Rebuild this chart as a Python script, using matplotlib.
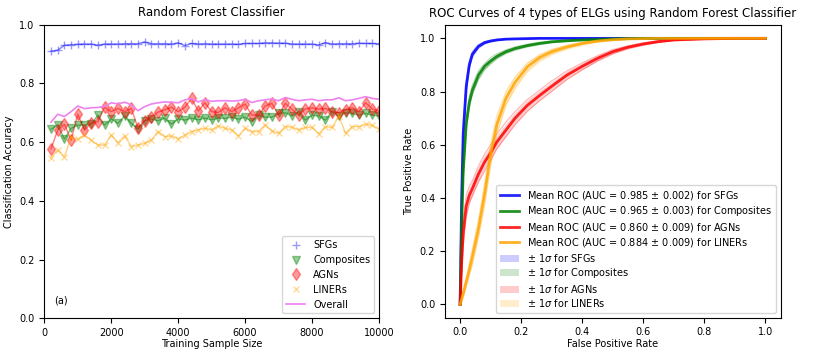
import numpy as np
import matplotlib
matplotlib.use("Agg")
import matplotlib.pyplot as plt

# --- left panel: accuracy vs training sample size ---
sizes = list(range(200, 10001, 200))

acc_sfg = [0.910, 0.913, 0.930, 0.932, 0.933, 0.934, 0.934, 0.930, 0.934, 0.934,
           0.934, 0.935, 0.935, 0.935, 0.941, 0.935, 0.935, 0.935, 0.934, 0.938,
           0.929, 0.936, 0.934, 0.935, 0.934, 0.934, 0.934, 0.934, 0.933, 0.936,
           0.936, 0.936, 0.938, 0.938, 0.937, 0.937, 0.934, 0.934, 0.934, 0.934,
           0.931, 0.939, 0.934, 0.935, 0.935, 0.935, 0.937, 0.936, 0.936, 0.935]
acc_comp = [0.644, 0.658, 0.610, 0.647, 0.658, 0.658, 0.661, 0.692, 0.658, 0.679,
            0.664, 0.689, 0.664, 0.644, 0.673, 0.679, 0.673, 0.682, 0.661, 0.679,
            0.675, 0.682, 0.676, 0.682, 0.676, 0.682, 0.681, 0.685, 0.678, 0.685,
            0.670, 0.692, 0.685, 0.685, 0.698, 0.700, 0.689, 0.704, 0.675, 0.692,
            0.689, 0.675, 0.704, 0.689, 0.700, 0.698, 0.692, 0.698, 0.692, 0.689]
acc_agn = [0.577, 0.641, 0.661, 0.607, 0.695, 0.641, 0.666, 0.669, 0.719, 0.704,
           0.715, 0.704, 0.715, 0.647, 0.673, 0.687, 0.702, 0.710, 0.719, 0.704,
           0.719, 0.749, 0.706, 0.734, 0.704, 0.701, 0.717, 0.704, 0.717, 0.730,
           0.692, 0.692, 0.723, 0.732, 0.692, 0.732, 0.712, 0.692, 0.713, 0.717,
           0.712, 0.715, 0.704, 0.700, 0.710, 0.717, 0.704, 0.734, 0.713, 0.706]
acc_liner = [0.547, 0.573, 0.550, 0.616, 0.610, 0.624, 0.607, 0.590, 0.590, 0.624,
             0.598, 0.621, 0.585, 0.590, 0.596, 0.607, 0.636, 0.619, 0.621, 0.611,
             0.624, 0.636, 0.642, 0.647, 0.642, 0.655, 0.647, 0.642, 0.621, 0.647,
             0.636, 0.636, 0.659, 0.638, 0.630, 0.653, 0.651, 0.642, 0.650, 0.650,
             0.628, 0.653, 0.650, 0.689, 0.630, 0.653, 0.653, 0.661, 0.657, 0.644]
acc_overall = [0.668, 0.695, 0.687, 0.704, 0.723, 0.714, 0.717, 0.718, 0.722, 0.734,
               0.730, 0.736, 0.727, 0.707, 0.721, 0.730, 0.734, 0.737, 0.736, 0.734,
               0.744, 0.748, 0.737, 0.745, 0.739, 0.741, 0.741, 0.740, 0.741, 0.746,
               0.735, 0.741, 0.744, 0.747, 0.741, 0.752, 0.746, 0.741, 0.744, 0.746,
               0.741, 0.744, 0.744, 0.751, 0.741, 0.744, 0.749, 0.755, 0.749, 0.746]

# --- right panel: ROC curves ---
fpr_grid = [0, 0.005, 0.01, 0.02, 0.03, 0.04, 0.06, 0.08, 0.10, 0.12, 0.15, 0.18, 0.22,
            0.26, 0.30, 0.35, 0.40, 0.45, 0.50, 0.55, 0.60, 0.65, 0.70, 0.80, 0.90, 1.0]

tpr_sfg = [0, 0.40, 0.64, 0.82, 0.90, 0.94, 0.970, 0.984, 0.990, 0.994, 0.997, 0.998, 0.999,
           1, 1, 1, 1, 1, 1, 1, 1, 1, 1, 1, 1, 1]
std_sfg = [0, 0.04, 0.03, 0.02, 0.015, 0.012, 0.008, 0.005, 0.004, 0.003, 0.002, 0.001, 0.001,
           0, 0, 0, 0, 0, 0, 0, 0, 0, 0, 0, 0, 0]
tpr_comp = [0, 0.30, 0.50, 0.68, 0.76, 0.805, 0.862, 0.895, 0.915, 0.932, 0.950, 0.962, 0.973,
            0.981, 0.987, 0.991, 0.994, 0.996, 0.998, 0.999, 1, 1, 1, 1, 1, 1]
std_comp = [0, 0.04, 0.035, 0.025, 0.02, 0.018, 0.015, 0.012, 0.011, 0.010, 0.008, 0.007, 0.006,
            0.005, 0.004, 0.003, 0.002, 0.002, 0.001, 0.001, 0, 0, 0, 0, 0, 0]
tpr_agn = [0, 0.16, 0.27, 0.37, 0.41, 0.435, 0.49, 0.535, 0.57, 0.61, 0.655, 0.70, 0.748,
           0.785, 0.82, 0.862, 0.895, 0.925, 0.950, 0.967, 0.979, 0.988, 0.994, 0.998, 1.0, 1.0]
std_agn = [0, 0.04, 0.04, 0.035, 0.03, 0.03, 0.028, 0.027, 0.026, 0.025, 0.024, 0.022, 0.02,
           0.018, 0.017, 0.015, 0.013, 0.011, 0.009, 0.007, 0.006, 0.004, 0.003, 0.002, 0.001, 0]
tpr_liner = [0, 0.02, 0.04, 0.085, 0.13, 0.18, 0.285, 0.415, 0.565, 0.675, 0.775, 0.835, 0.893,
             0.928, 0.950, 0.968, 0.981, 0.990, 0.995, 0.998, 0.999, 1, 1, 1, 1, 1]
std_liner = [0, 0.01, 0.015, 0.02, 0.025, 0.03, 0.035, 0.04, 0.04, 0.035, 0.03, 0.025, 0.02,
             0.016, 0.013, 0.01, 0.008, 0.006, 0.004, 0.003, 0.002, 0.001, 0, 0, 0, 0]

# a few individual folds (pale lines)
folds_sfg = [[0, 0.35, 0.60, 0.80, 0.89, 0.935, 0.965, 0.980, 0.988, 0.993, 0.996, 0.998, 0.999,
              1, 1, 1, 1, 1, 1, 1, 1, 1, 1, 1, 1, 1],
             [0, 0.45, 0.68, 0.84, 0.915, 0.95, 0.976, 0.988, 0.993, 0.996, 0.998, 0.999, 1,
              1, 1, 1, 1, 1, 1, 1, 1, 1, 1, 1, 1, 1]]
folds_comp = [[0, 0.26, 0.46, 0.66, 0.74, 0.79, 0.845, 0.882, 0.905, 0.925, 0.944, 0.957, 0.969,
               0.978, 0.985, 0.990, 0.993, 0.996, 0.998, 0.999, 1, 1, 1, 1, 1, 1],
              [0, 0.34, 0.54, 0.70, 0.78, 0.825, 0.878, 0.905, 0.928, 0.942, 0.957, 0.968, 0.978,
               0.985, 0.990, 0.993, 0.995, 0.997, 0.999, 1, 1, 1, 1, 1, 1, 1]]
folds_agn = [[0, 0.12, 0.22, 0.33, 0.38, 0.41, 0.46, 0.50, 0.54, 0.585, 0.63, 0.675, 0.725,
              0.765, 0.80, 0.845, 0.882, 0.915, 0.942, 0.962, 0.975, 0.985, 0.992, 0.997, 1, 1],
             [0, 0.20, 0.32, 0.41, 0.445, 0.465, 0.52, 0.565, 0.60, 0.64, 0.685, 0.725, 0.77,
              0.805, 0.84, 0.878, 0.908, 0.935, 0.958, 0.972, 0.983, 0.991, 0.996, 0.999, 1, 1]]
folds_liner = [[0, 0.01, 0.03, 0.07, 0.11, 0.15, 0.25, 0.37, 0.52, 0.64, 0.75, 0.815, 0.878,
                0.918, 0.942, 0.962, 0.977, 0.987, 0.993, 0.997, 0.999, 1, 1, 1, 1, 1],
               [0, 0.03, 0.055, 0.10, 0.155, 0.21, 0.32, 0.455, 0.605, 0.71, 0.80, 0.855, 0.907,
                0.938, 0.958, 0.974, 0.985, 0.992, 0.997, 0.999, 1, 1, 1, 1, 1, 1]]

roc_names = ["SFGs", "Composites", "AGNs", "LINERs"]
roc_auc = [0.985, 0.965, 0.860, 0.884]
roc_auc_std = [0.002, 0.003, 0.009, 0.009]

fig = plt.figure(figsize=(8.3, 3.56), dpi=100)
ax1 = fig.add_axes([0.0534, 0.106, 0.4032, 0.8246])
ax2 = fig.add_axes([0.536, 0.1076, 0.4045, 0.822])

# left
series = [(acc_sfg, "b", "+", "SFGs", 6),
          (acc_comp, "g", "v", "Composites", 6),
          (acc_agn, "r", "d", "AGNs", 6),
          (acc_liner, "orange", "x", "LINERs", 5)]
for vals, c, m, lab, ms in series:
    ax1.plot(sizes, vals, "-", color=c, lw=1, alpha=0.5)
    ax1.plot(sizes, vals, m, color=c, ms=ms, alpha=0.4, label=lab, linestyle="none")
ax1.plot(sizes, acc_overall, "-", color="violet", lw=1.2, label="Overall")
ax1.set_xlim(0, 10000)
ax1.set_ylim(0, 1.0)
ax1.set_xticks(range(0, 10001, 2000))
ax1.set_title("Random Forest Classifier", fontsize=8.5)
ax1.set_xlabel("Training Sample Size", fontsize=7, labelpad=1)
ax1.set_ylabel("Classification Accuracy", fontsize=7)
ax1.tick_params(labelsize=7)
ax1.text(300, 0.06, "(a)", fontsize=7, va="center")
ax1.legend(loc="lower right", fontsize=7)

# right
roc_colors = ["b", "g", "r", "orange"]
means = [tpr_sfg, tpr_comp, tpr_agn, tpr_liner]
stds = [std_sfg, std_comp, std_agn, std_liner]
folds = [folds_sfg, folds_comp, folds_agn, folds_liner]
fpr = np.array(fpr_grid)
for i in range(4):
    for f in folds[i]:
        ax2.plot(fpr, f, color=roc_colors[i], lw=0.8, alpha=0.3)
for i in range(4):
    ax2.plot(fpr, means[i], color=roc_colors[i], lw=2, alpha=0.85,
             label="Mean ROC (AUC = %0.3f $\\pm$ %0.3f) for %s" % (roc_auc[i], roc_auc_std[i], roc_names[i]))
for i in range(4):
    m = np.array(means[i])
    s = np.array(stds[i])
    ax2.fill_between(fpr, np.maximum(m - s, 0), np.minimum(m + s, 1), color=roc_colors[i], alpha=0.2,
                     label="$\\pm$ 1$\\sigma$ for %s" % roc_names[i], lw=0)
ax2.set_xlim(-0.05, 1.05)
ax2.set_ylim(-0.05, 1.05)
ax2.set_title("ROC Curves of 4 types of ELGs using Random Forest Classifier", fontsize=8.5)
ax2.set_xlabel("False Positive Rate", fontsize=7, labelpad=1)
ax2.set_ylabel("True Positive Rate", fontsize=7)
ax2.tick_params(labelsize=7)
ax2.legend(loc="lower right", fontsize=7, labelspacing=0.25)

fig.savefig("out.png", dpi=100)
